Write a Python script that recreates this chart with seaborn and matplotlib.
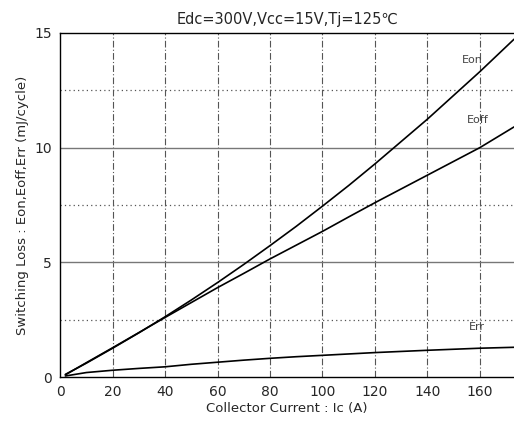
import numpy as np
import pandas as pd
import matplotlib
matplotlib.use("Agg")
import matplotlib.pyplot as plt
import seaborn as sns

# collector current (A)
ic = [2, 10, 20, 30, 40, 50, 60, 70, 80, 90, 100, 110, 120, 140, 160, 173]

# switching losses (mJ/cycle)
e_on = [0.12, 0.61, 1.26, 1.93, 2.63, 3.36, 4.12, 4.91, 5.73, 6.57, 7.45, 8.35, 9.29, 11.24, 13.31, 14.72]
e_off = [0.1, 0.63, 1.28, 1.94, 2.6, 3.25, 3.9, 4.52, 5.15, 5.75, 6.35, 6.98, 7.6, 8.8, 10.0, 10.9]
e_rr = [0.05, 0.2, 0.3, 0.38, 0.45, 0.56, 0.65, 0.74, 0.82, 0.89, 0.95, 1.01, 1.07, 1.17, 1.26, 1.3]

series = ["Eon", "Eoff", "Err"]
x_ticks = [0, 20, 40, 60, 80, 100, 120, 140, 160]
y_ticks = [0, 5, 10, 15]

df = pd.DataFrame({
    "ic": ic * 3,
    "loss": e_on + e_off + e_rr,
    "curve": sum([[s] * len(ic) for s in series], []),
})

sns.set_theme(style="white")
plt.rcParams["font.family"] = ["DejaVu Sans"]

fig = plt.figure(figsize=(5.14, 4.32), dpi=100)
ax = fig.add_axes([0.117, 0.127, 0.883, 0.797])

# grid: dash-dot verticals, solid/dotted horizontals
for x in x_ticks[1:]:
    ax.axvline(x, color="#555555", lw=0.8, ls=(0, (6, 2, 1, 2)), zorder=0)
for y in [5, 10]:
    ax.axhline(y, color="#777777", lw=1.0, zorder=0)
for y in [2.5, 7.5, 12.5]:
    ax.axhline(y, color="#555555", lw=0.9, ls=(0, (1, 2.5)), zorder=0)

sns.lineplot(data=df, x="ic", y="loss", hue="curve",
             palette=["black"] * 3, legend=False, lw=1.2, ax=ax)

for name, (tx, ty) in zip(series, [(157, 13.8), (159, 11.2), (159, 2.2)]):
    ax.text(tx, ty, name, fontsize=8, color="#444444", ha="center", va="center")

ax.set_xlim(0, 173)
ax.set_ylim(0, 15)
ax.set_xticks(x_ticks)
ax.set_yticks(y_ticks)
ax.tick_params(labelsize=10, length=0, pad=6)
for side in ["left", "bottom", "top"]:
    ax.spines[side].set_color("black")
    ax.spines[side].set_linewidth(1.0)
ax.spines["right"].set_visible(False)

ax.set_title("Edc=300V,Vcc=15V,Tj=125\u2103", fontsize=10.5, pad=6)
ax.set_xlabel("Collector Current : Ic (A)", fontsize=9.5, labelpad=2)
ax.set_ylabel("Switching Loss : Eon,Eoff,Err (mJ/cycle)", fontsize=9.5, labelpad=4)

fig.savefig("out.png", dpi=100)
